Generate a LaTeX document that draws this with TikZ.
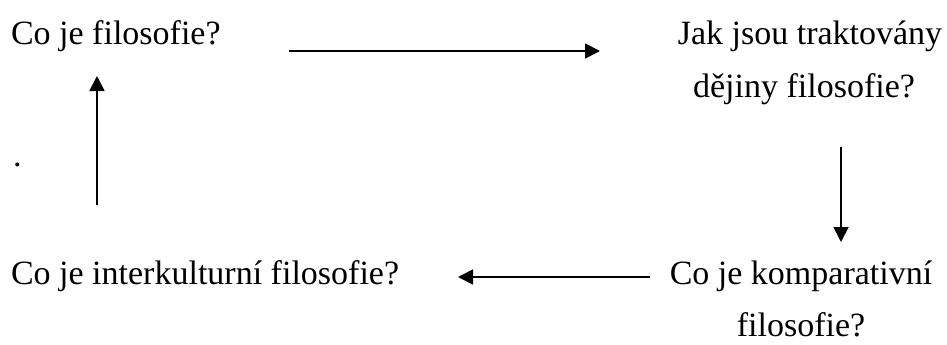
\documentclass[tikz,border=0pt]{standalone}
\usepackage{fontspec}
\setmainfont{Liberation Serif}
\usetikzlibrary{arrows.meta}
\begin{document}
\begin{tikzpicture}[x=1pt, y=-1pt,
  question/.style={inner sep=0pt, outer sep=0pt, font=\fontsize{34}{41}\selectfont},
  link/.style={line width=1.8pt, -{Triangle[length=15pt,width=15pt]}}]
\useasboundingbox (0,0) rectangle (947,345);

% questions of the cycle
\node[question, anchor=base west] (q1)  at (11,45)  {Co je filosofie?};
\node[question, anchor=base]      (q2)  at (810,45) {Jak jsou traktovány};
\node[question, anchor=base]      (q2b) at (804,97) {dějiny filosofie?};
\node[question, anchor=base]      (q3)  at (801,284) {Co je komparativní};
\node[question, anchor=base]      (q3b) at (801,336) {filosofie?};
\node[question, anchor=base west] (q4)  at (11,284) {Co je interkulturní filosofie?};
\node[question, anchor=base west] (dot) at (13,166) {.};

% arrow end points
\coordinate (a1s) at (289,51);  \coordinate (a1e) at (600,51);
\coordinate (a2s) at (841,147); \coordinate (a2e) at (841,242);
\coordinate (a3s) at (650,277); \coordinate (a3e) at (458,277);
\coordinate (a4s) at (97,205);  \coordinate (a4e) at (97,76);

\draw[link] (a1s) -- (a1e);
\draw[link] (a2s) -- (a2e);
\draw[link] (a3s) -- (a3e);
\draw[link] (a4s) -- (a4e);
\end{tikzpicture}
\end{document}
